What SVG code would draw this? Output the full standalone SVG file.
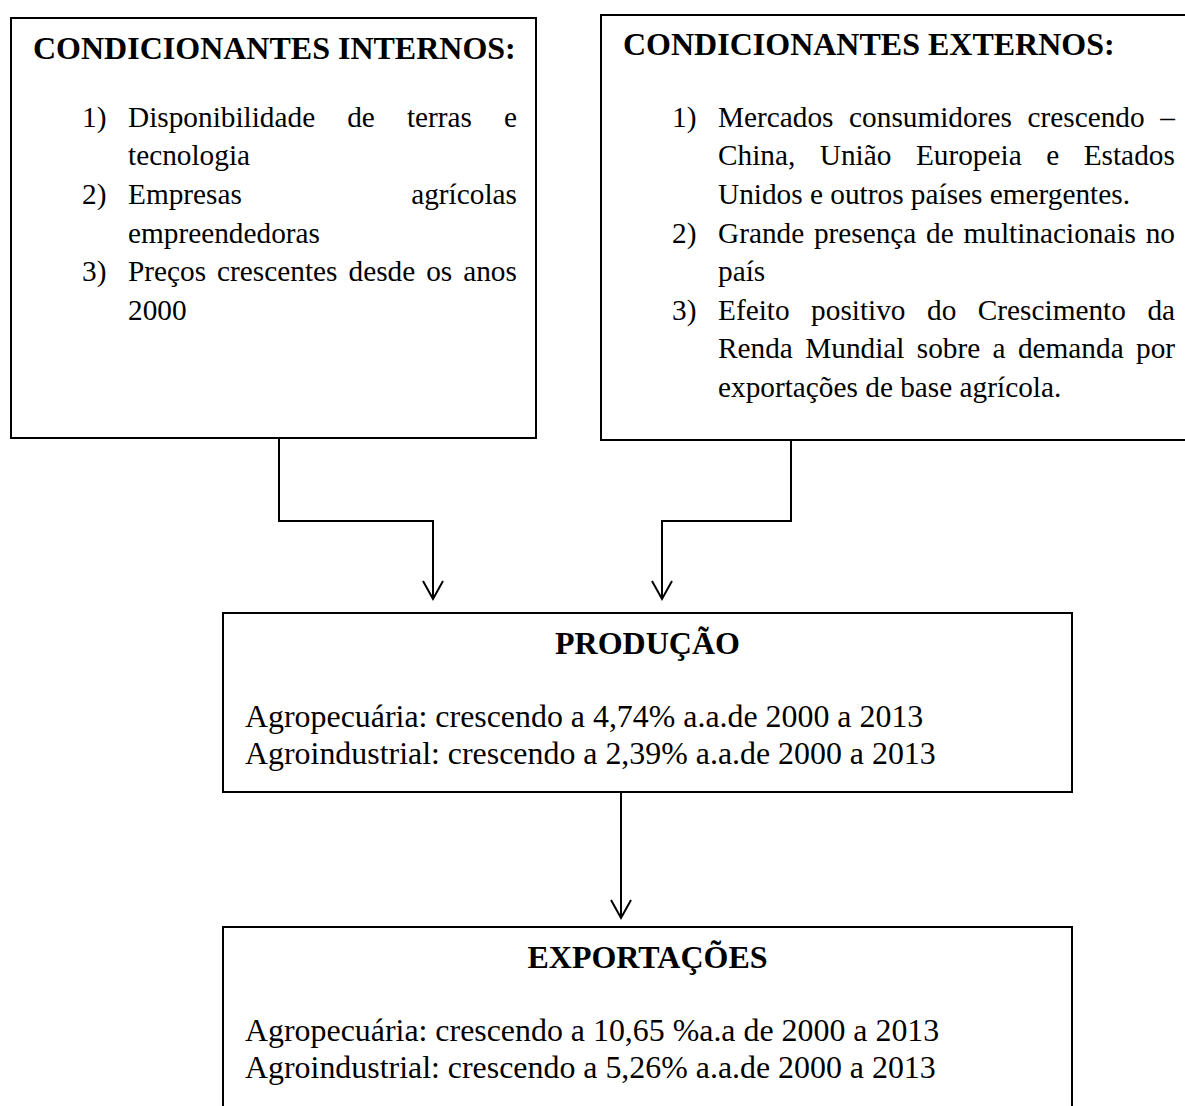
<svg xmlns="http://www.w3.org/2000/svg" width="1185" height="1106" viewBox="0 0 1185 1106">
<defs>
<style>
.box{fill:#fff;stroke:#000;stroke-width:2}
.title{font-family:"Liberation Serif","Times New Roman",serif;font-weight:bold;font-size:32px;fill:#000}
.body{font-family:"Liberation Serif","Times New Roman",serif;font-size:29.3px;fill:#000}
.big{font-family:"Liberation Serif","Times New Roman",serif;font-size:31.9px;fill:#000}
.conn{fill:none;stroke:#000;stroke-width:2}
</style>
<marker id="arr" markerUnits="userSpaceOnUse" markerWidth="24" markerHeight="24" viewBox="-20 -12 24 24" refX="0" refY="0" orient="auto" overflow="visible">
<path d="M-18,-10 L0,0 L-18,10" fill="none" stroke="#000" stroke-width="2"/>
</marker>
</defs>
<rect width="1185" height="1106" fill="#fff"/>

<g id="internos">
<rect class="box" x="11" y="18" width="525" height="420"/>
<text class="title" x="33" y="59">CONDICIONANTES INTERNOS:</text>
<text class="body"><tspan x="82" y="126.8">1)</tspan><tspan x="128" y="126.8">Disponibilidade</tspan><tspan x="347.2" y="126.8">de</tspan><tspan x="406.9" y="126.8">terras</tspan><tspan x="504" y="126.8">e</tspan></text>
<text class="body" x="128" y="165.4">tecnologia</text>
<text class="body"><tspan x="82" y="204">2)</tspan><tspan x="128" y="204">Empresas</tspan><tspan x="411.2" y="204">agrícolas</tspan></text>
<text class="body" x="128" y="242.6">empreendedoras</text>
<text class="body"><tspan x="82" y="281.2">3)</tspan><tspan x="128" y="281.2">Preços</tspan><tspan x="217.1" y="281.2">crescentes</tspan><tspan x="348.5" y="281.2">desde</tspan><tspan x="426.2" y="281.2">os</tspan><tspan x="463.2" y="281.2">anos</tspan></text>
<text class="body" x="128" y="319.8">2000</text>
</g>

<g id="externos">
<rect class="box" x="601" y="15" width="600" height="425"/>
<text class="title" x="623" y="55">CONDICIONANTES EXTERNOS:</text>
<text class="body"><tspan x="672" y="126.8">1)</tspan><tspan x="718" y="126.8">Mercados</tspan><tspan x="849.1" y="126.8">consumidores</tspan><tspan x="1027.5" y="126.8">crescendo</tspan><tspan x="1160.2" y="126.8">–</tspan></text>
<text class="body"><tspan x="718" y="165.4">China,</tspan><tspan x="819.8" y="165.4">União</tspan><tspan x="915.9" y="165.4">Europeia</tspan><tspan x="1046.2" y="165.4">e</tspan><tspan x="1083.7" y="165.4">Estados</tspan></text>
<text class="body" x="718" y="204">Unidos e outros países emergentes.</text>
<text class="body"><tspan x="672" y="242.6">2)</tspan><tspan x="718" y="242.6">Grande</tspan><tspan x="813.9" y="242.6">presença</tspan><tspan x="926.1" y="242.6">de</tspan><tspan x="963.5" y="242.6">multinacionais</tspan><tspan x="1145.7" y="242.6">no</tspan></text>
<text class="body" x="718" y="281.2">país</text>
<text class="body"><tspan x="672" y="319.8">3)</tspan><tspan x="718" y="319.8">Efeito</tspan><tspan x="811.1" y="319.8">positivo</tspan><tspan x="927" y="319.8">do</tspan><tspan x="977.8" y="319.8">Crescimento</tspan><tspan x="1147.4" y="319.8">da</tspan></text>
<text class="body"><tspan x="718" y="358.4">Renda</tspan><tspan x="805.2" y="358.4">Mundial</tspan><tspan x="916.8" y="358.4">sobre</tspan><tspan x="992.6" y="358.4">a</tspan><tspan x="1017.9" y="358.4">demanda</tspan><tspan x="1136" y="358.4">por</tspan></text>
<text class="body" x="718" y="397">exportações de base agrícola.</text>
</g>

<g id="producao">
<rect class="box" x="223" y="613" width="849" height="179"/>
<text class="title" x="647.5" y="654" text-anchor="middle">PRODUÇÃO</text>
<text class="big" x="245" y="727">Agropecuária: crescendo a 4,74% a.a.de 2000 a 2013</text>
<text class="big" x="245" y="764">Agroindustrial: crescendo a 2,39% a.a.de 2000 a 2013</text>
</g>

<g id="exportacoes">
<rect class="box" x="223" y="927" width="849" height="200"/>
<text class="title" x="647.5" y="968" text-anchor="middle">EXPORTAÇÕES</text>
<text class="big" x="245" y="1041">Agropecuária: crescendo a 10,65 %a.a de 2000 a 2013</text>
<text class="big" x="245" y="1078">Agroindustrial: crescendo a 5,26% a.a.de 2000 a 2013</text>
</g>

<g id="connectors">
<path class="conn" d="M279,438 V521 H433 V599" marker-end="url(#arr)"/>
<path class="conn" d="M791,440 V521 H662 V599" marker-end="url(#arr)"/>
<path class="conn" d="M621,792 V918" marker-end="url(#arr)"/>
</g>
</svg>
